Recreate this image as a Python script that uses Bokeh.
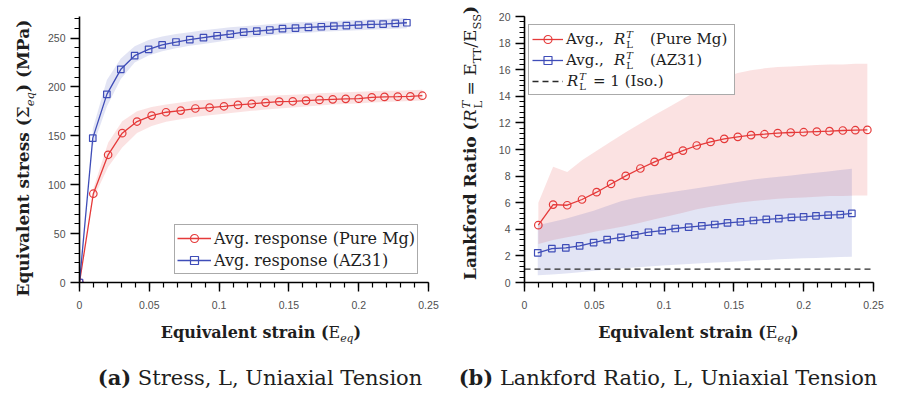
from bokeh.plotting import figure
from bokeh.models import Range1d, FixedTicker, Legend, LegendItem, Div
from bokeh.layouts import row, column
from bokeh.embed import file_html
from bokeh.resources import INLINE

# ---------------- data ----------------
strain_mg = [0.0, 0.0099, 0.0205, 0.0306, 0.0412, 0.0517, 0.0620, 0.0725, 0.0830, 0.0932,
             0.1035, 0.1135, 0.1234, 0.1333, 0.1431, 0.1528, 0.1623, 0.1719, 0.1814, 0.1907,
             0.2000, 0.2094, 0.2185, 0.2280, 0.2370, 0.2456]
strain_az = [0.0, 0.0095, 0.0196, 0.0296, 0.0395, 0.0495, 0.0592, 0.0691, 0.0790, 0.0888,
             0.0986, 0.1080, 0.1176, 0.1270, 0.1363, 0.1454, 0.1547, 0.1640, 0.1732, 0.1822,
             0.1912, 0.1999, 0.2088, 0.2175, 0.2262, 0.2345]

stress_mg = [0, 90.8, 130.6, 152.7, 164.6, 170.7, 174.1, 175.8, 177.9, 178.9, 180.2, 181.6,
             182.7, 184.0, 185.0, 185.3, 186.0, 186.7, 187.3, 187.8, 188.0, 189.4, 189.8,
             190.0, 190.4, 191.0]
stress_mg_lo = [86, 118, 138, 153, 160, 164.5, 167, 169.5, 171, 172.5, 174, 175.5, 177, 178,
                179, 180, 181, 182, 182.5, 183, 184, 184.5, 185, 185.5, 186]
stress_mg_hi = [96, 143, 165, 175, 179.5, 182, 184, 186, 187, 188, 189, 190, 191, 191.5, 192,
                192.5, 193.5, 194, 194.5, 195, 195.5, 196, 196, 196.5, 197]

stress_az = [0, 147.6, 192.4, 218.0, 231.9, 238.4, 242.9, 245.9, 248.3, 250.3, 252.3, 254.0,
             256.1, 257.1, 258.2, 259.5, 260.2, 260.8, 261.5, 262.2, 262.6, 263.3, 263.9,
             264.3, 264.9, 265.6]
stress_az_lo = [139, 180, 208, 225, 232, 236.5, 239.5, 242, 244, 246, 248, 250, 251, 252.5, 254,
                255, 255.5, 256.5, 257, 257.5, 258, 258.5, 259, 259.5, 260]
stress_az_hi = [157, 207, 229, 241.5, 248, 251.5, 254, 256, 258, 259.5, 261, 262, 263, 264, 265,
                266, 266.5, 267, 267.5, 268, 268.5, 269, 269.5, 270, 270.5]

lankford_mg = [4.31, 5.86, 5.81, 6.24, 6.79, 7.41, 8.02, 8.57, 9.07, 9.52, 9.92, 10.30, 10.57,
               10.80, 10.95, 11.08, 11.15, 11.23, 11.28, 11.30, 11.35, 11.38, 11.43, 11.45, 11.47]
lankford_mg_lo = [2.9, 3.2, 3.4, 3.6, 3.85, 4.05, 4.25, 4.5, 4.75, 5.0, 5.25, 5.5, 5.7, 5.85,
                  6.0, 6.1, 6.2, 6.3, 6.35, 6.4, 6.45, 6.5, 6.5, 6.55, 6.55]
lankford_mg_hi = [6.0, 8.7, 8.3, 9.2, 9.9, 10.6, 11.3, 11.95, 12.6, 13.2, 13.8, 14.4, 14.9, 15.4,
                  15.75, 15.95, 16.1, 16.2, 16.25, 16.3, 16.35, 16.4, 16.4, 16.45, 16.45]

lankford_az = [2.23, 2.55, 2.60, 2.75, 3.00, 3.23, 3.40, 3.58, 3.78, 3.90, 4.06, 4.16, 4.26,
               4.36, 4.48, 4.56, 4.66, 4.74, 4.81, 4.89, 4.94, 5.01, 5.06, 5.11, 5.19]
lankford_az_lo = [0.55, 0.6, 0.68, 0.78, 0.88, 0.97, 1.05, 1.12, 1.2, 1.27, 1.33, 1.39, 1.44,
                  1.5, 1.55, 1.6, 1.65, 1.7, 1.74, 1.78, 1.82, 1.85, 1.88, 1.91, 1.93]
lankford_az_hi = [4.3, 4.55, 4.8, 5.1, 5.4, 5.75, 6.1, 6.35, 6.55, 6.7, 6.85, 7.0, 7.15, 7.3,
                  7.45, 7.6, 7.75, 7.85, 7.95, 8.05, 8.15, 8.25, 8.35, 8.45, 8.55]

iso_ratio = 1.0

strain_limits = [0, 0.25]
stress_limits = [0, 272]
ratio_limits = [0, 20]

strain_ticks = [0, 0.05, 0.1, 0.15, 0.2, 0.25]
strain_tick_labels = ["0", "0.05", "0.1", "0.15", "0.2", "0.25"]
stress_ticks = [0, 50, 100, 150, 200, 250]
stress_tick_labels = ["0", "50", "100", "150", "200", "250"]
ratio_ticks = [0, 2, 4, 6, 8, 10, 12, 14, 16, 18, 20]
ratio_tick_labels = ["0", "2", "4", "6", "8", "10", "12", "14", "16", "18", "20"]

legend_stress = ["Avg. response (Pure Mg)", "Avg. response (AZ31)"]
legend_ratio_head = ["Avg.,", "Avg.,", "\u200a"]
legend_ratio_tail = ["(Pure Mg)", "(AZ31)", "= 1 (Iso.)"]

SUB = '<sub style="font-size:0.68em">{}</sub>'
xtitle_html = '<b>Equivalent strain (</b>E' + SUB.format('<i>eq</i>') + '<b>)</b>'
ytitle_a_html = '<b>Equivalent stress (</b>&Sigma;' + SUB.format('<i>eq</i>') + '<b>) (MPa)</b>'
RTL = ('<i>R</i><span style="display:inline-flex;flex-direction:column;vertical-align:middle;'
       'font-size:0.68em;line-height:1.05;margin-left:1px"><i>T</i><span>L</span></span>')
ytitle_b_html = ('<b>Lankford Ratio (</b>' + RTL + ' = E' + SUB.format('TT') + '/E'
                 + SUB.format('SS') + '<b>)</b>')
caption_a_html = '<b>(a)</b> Stress, L, Uniaxial Tension'
caption_b_html = '<b>(b)</b> Lankford Ratio, L, Uniaxial Tension'
legend_symbol_html = ('<span style="display:inline-flex;align-items:center;width:22px">'
                      '<i>R</i><span style="display:inline-flex;flex-direction:column;'
                      'font-size:10px;line-height:1;margin-left:1px"><i>T</i><span>L</span>'
                      '</span></span>')

# ---------------- style ----------------
RED = "#e53a3a"
BLUE = "#3f4db8"
INK = "#1e1e1e"
SERIF = "DejaVu Serif"
SANS = "Liberation Sans"
ROW1_H = 316
LFS = 15


def span_css(size, extra=""):
    return (f"font-family:'{SERIF}';font-size:{size}px;color:{INK};white-space:nowrap;{extra}")


def text_div(html, w, h, size, dx, dy, rotate=False, overlay=""):
    rot = " rotate(-90deg)" if rotate else ""
    inner = (f'<div style="position:relative;width:{w}px;height:{h}px;overflow:visible">'
             f'<div style="position:absolute;left:0;top:0;width:{w}px;height:{h}px;display:flex;'
             f'align-items:center;justify-content:center;overflow:visible">'
             f'<span style="display:inline-block;line-height:1.2;'
             f'transform:translate({dx}px,{dy}px){rot};{span_css(size)}">{html}</span></div>'
             f'{overlay}</div>')
    return Div(text=inner, width=w, height=h, margin=0, styles={"overflow": "visible"})


def make_fig(w, xlim, ylim, left, right, top, bottom):
    p = figure(width=w, height=ROW1_H, output_backend="svg", toolbar_location=None,
               x_range=Range1d(*xlim), y_range=Range1d(*ylim),
               min_border_left=left, min_border_right=right,
               min_border_top=top, min_border_bottom=bottom, margin=0)
    p.outline_line_color = None
    p.grid.visible = False
    p.background_fill_color = "white"
    p.border_fill_color = "white"
    for ax in (p.xaxis[0], p.yaxis[0]):
        ax.axis_line_color = "black"
        ax.axis_line_width = 1.6
        ax.major_tick_line_color = "black"
        ax.major_tick_line_width = 1.4
        ax.minor_tick_line_color = "black"
        ax.minor_tick_line_width = 1.2
        ax.major_tick_in = 0
        ax.major_tick_out = 9
        ax.minor_tick_in = 0
        ax.minor_tick_out = 5
        ax.major_label_text_font = SANS
        ax.major_label_text_font_size = "10.5px"
        ax.major_label_text_color = "#505050"
    p.xaxis.major_label_standoff = 9
    p.yaxis.major_label_standoff = 5
    p.xaxis.ticker = FixedTicker(ticks=strain_ticks,
                                 minor_ticks=[round(0.01 * i, 2) for i in range(26)])
    p.xaxis.major_label_overrides = dict(zip(strain_ticks, strain_tick_labels))
    return p


# ================= (a) stress =================
pa = make_fig(405, strain_limits, stress_limits, 34, 21, 15, ROW1_H - 282)
pa.yaxis.ticker = FixedTicker(ticks=stress_ticks, minor_ticks=list(range(0, 280, 10)))
pa.yaxis.major_label_overrides = dict(zip(stress_ticks, stress_tick_labels))

pa.varea(x=strain_mg[1:], y1=stress_mg_lo, y2=stress_mg_hi, fill_color=RED, fill_alpha=0.15)
pa.varea(x=strain_az[1:], y1=stress_az_lo, y2=stress_az_hi, fill_color=BLUE, fill_alpha=0.15)
la_mg = pa.line(strain_mg, stress_mg, line_color=RED, line_width=1.3)
sa_mg = pa.scatter(strain_mg, stress_mg, marker="circle", size=7.5, line_color=RED,
                   line_width=1.2, fill_alpha=0)
la_az = pa.line(strain_az, stress_az, line_color=BLUE, line_width=1.3)
sa_az = pa.scatter(strain_az, stress_az, marker="square", size=6.5, line_color=BLUE,
                   line_width=1.2, fill_alpha=0)

leg_a = Legend(items=[LegendItem(label=legend_stress[0], renderers=[la_mg, sa_mg]),
                      LegendItem(label=legend_stress[1], renderers=[la_az, sa_az])],
               location=(95, 8), padding=2, spacing=0, label_height=22, glyph_height=20,
               glyph_width=34, label_standoff=3, margin=0,
               label_text_font=SERIF, label_text_font_size="16px", label_text_color=INK,
               border_line_color="#555555", border_line_width=1,
               background_fill_color="white", background_fill_alpha=1)
pa.add_layout(leg_a)

# ================= (b) Lankford ratio =================
FB_L, FB_R, FB_T, FB_B = 524, 873, 16, 282     # frame of (b) in page pixels
pb = make_fig(403, strain_limits, ratio_limits, FB_L - 495, 898 - FB_R, FB_T, ROW1_H - FB_B)
pb.yaxis.ticker = FixedTicker(ticks=ratio_ticks,
                              minor_ticks=[round(0.4 * i, 1) for i in range(51)])
pb.yaxis.major_label_overrides = dict(zip(ratio_ticks, ratio_tick_labels))

pb.varea(x=strain_mg[1:], y1=lankford_mg_lo, y2=lankford_mg_hi, fill_color=RED, fill_alpha=0.15)
pb.varea(x=strain_az[1:], y1=lankford_az_lo, y2=lankford_az_hi, fill_color=BLUE, fill_alpha=0.15)
iso_r = pb.line(strain_limits, [iso_ratio, iso_ratio], line_color="#2a2a2a", line_width=1.3,
                line_dash="6 4")
lb_mg = pb.line(strain_mg[1:], lankford_mg, line_color=RED, line_width=1.3)
sb_mg = pb.scatter(strain_mg[1:], lankford_mg, marker="circle", size=7.5, line_color=RED,
                   line_width=1.2, fill_alpha=0)
lb_az = pb.line(strain_az[1:], lankford_az, line_color=BLUE, line_width=1.3)
sb_az = pb.scatter(strain_az[1:], lankford_az, marker="square", size=6.5, line_color=BLUE,
                   line_width=1.2, fill_alpha=0)

leg_b = Legend(items=[LegendItem(label=legend_ratio_head[0], renderers=[lb_mg, sb_mg]),
                      LegendItem(label=legend_ratio_head[1], renderers=[lb_az, sb_az]),
                      LegendItem(label=legend_ratio_head[2], renderers=[iso_r])],
               location=(4, 187), padding=3, spacing=0, label_height=21, glyph_height=20,
               glyph_width=31, label_standoff=3, label_width=165, margin=0,
               label_text_font=SERIF, label_text_font_size=f"{LFS}px", label_text_color=INK,
               border_line_color="#555555", border_line_width=1,
               background_fill_color="white", background_fill_alpha=1)
pb.add_layout(leg_b)

# rest of each legend row (R^T_L symbol + text), as HTML laid over the plot (page px -> div px)
YLAB_B_X = 449
rows_px = [(614, 39.5, 14), (614, 60.5, 14), (567, 81.5, 4)]
overlay = ""
for (rx, ry, gap), tail in zip(rows_px, legend_ratio_tail):
    overlay += (f'<span style="position:absolute;z-index:20;left:{rx - YLAB_B_X}px;top:{ry}px;'
                f'display:inline-flex;align-items:center;line-height:1;'
                f'transform:translateY(-50%);{span_css(LFS)}">{legend_symbol_html}'
                f'<span style="margin-left:{gap}px">{tail}</span></span>')

# ================= titles and captions (HTML) =================
ylab_a = text_div(ytitle_a_html, 44, ROW1_H, 17, 3, 0, rotate=True)
ylab_b = text_div(ytitle_b_html, 46, ROW1_H, 17, 0, -15.5, rotate=True, overlay=overlay)
xlab_a = text_div(xtitle_html, 449, 34, 16, 36.5, 1)
xlab_b = text_div(xtitle_html, 449, 34, 16, 24.8, 1)
cap_a = text_div(caption_a_html, 449, 46, 21, 35.5, 5)
cap_b = text_div(caption_b_html, 449, 46, 21, -5.5, 5)

layout = column(row(ylab_a, pa, ylab_b, pb, spacing=0),
                row(xlab_a, xlab_b, spacing=0),
                row(cap_a, cap_b, spacing=0), spacing=0)
with open("out.html", "w", encoding="utf-8") as fh:
    fh.write(file_html(layout, INLINE))
